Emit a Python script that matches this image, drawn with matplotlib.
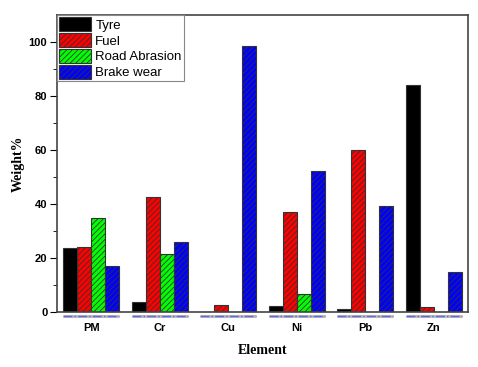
import numpy as np
import matplotlib.pyplot as plt

elements = ['PM', 'Cr', 'Cu', 'Ni', 'Pb', 'Zn']
tyre = [23.6, 3.7, 0, 2.2, 1.1, 84.0]
fuel = [24.1, 42.6, 2.7, 37.0, 59.9, 2.0]
road = [35.0, 21.3, 0, 6.8, 0, 0]
brake = [16.9, 25.9, 98.4, 52.4, 39.1, 15.0]

series = [('Tyre', tyre, 'black', ''),
          ('Fuel', fuel, '#ff0000', '//////'),
          ('Road Abrasion', road, '#00ff00', '//////'),
          ('Brake wear', brake, '#0000ff', '//////')]

plt.rcParams['hatch.linewidth'] = 0.6
fig = plt.figure(figsize=(4.78, 3.67), dpi=100)
ax = fig.add_axes([57/478, 1 - 312/367, 411/478, 297/367])

x = np.arange(len(elements))
w = 0.205
for i, (name, vals, col, hatch) in enumerate(series):
    ax.bar(x + (i - 1.5) * w, vals, w, color=col, hatch=hatch,
           edgecolor='#333333', linewidth=0.8, label=name)

# dash-dot underlines below each group (zero-bar artefacts in the original)
for xc in x:
    ax.plot([xc - 2 * w, xc + 2 * w], [-1.3, -1.3], color='#bbbbbb', lw=2.2,
            clip_on=False, solid_capstyle='butt')
    ax.plot([xc - 2 * w, xc + 2 * w], [-1.3, -1.3], color='#6666dd', lw=1.0,
            ls='-.', clip_on=False)

ax.set_xlim(-0.5, 5.5)
ax.set_ylim(0, 110)
ax.set_yticks([0, 20, 40, 60, 80, 100])
ax.set_yticks(np.arange(10, 110, 20), minor=True)
ax.set_xticks(x)
ax.set_xticklabels(elements)
ax.tick_params(axis='x', length=0, pad=8)
ax.tick_params(axis='y', which='major', length=5, direction='out', pad=2)
ax.tick_params(axis='y', which='minor', length=3, direction='out')
for lab in ax.get_xticklabels() + ax.get_yticklabels():
    lab.set_fontfamily('Liberation Sans')
    lab.set_fontweight('bold')
    lab.set_fontsize(8)
for sp in ax.spines.values():
    sp.set_color('#444444')
    sp.set_linewidth(1.2)

ax.set_xlabel('Element', fontfamily='Liberation Serif', fontweight='bold',
              fontsize=10, labelpad=8)
ax.set_ylabel('Weight%', fontfamily='Liberation Serif', fontweight='bold',
              fontsize=10, labelpad=3)

leg = ax.legend(loc='upper left', bbox_to_anchor=(0, 1), borderaxespad=0,
                prop={'family': 'Liberation Sans', 'size': 9.5},
                handlelength=2.4, handleheight=1.3, labelspacing=0.1,
                handletextpad=0.35, borderpad=0.15, fancybox=False,
                framealpha=1)
leg.get_frame().set_edgecolor('#888888')
leg.get_frame().set_linewidth(0.8)

fig.savefig('out.png', dpi=100)
